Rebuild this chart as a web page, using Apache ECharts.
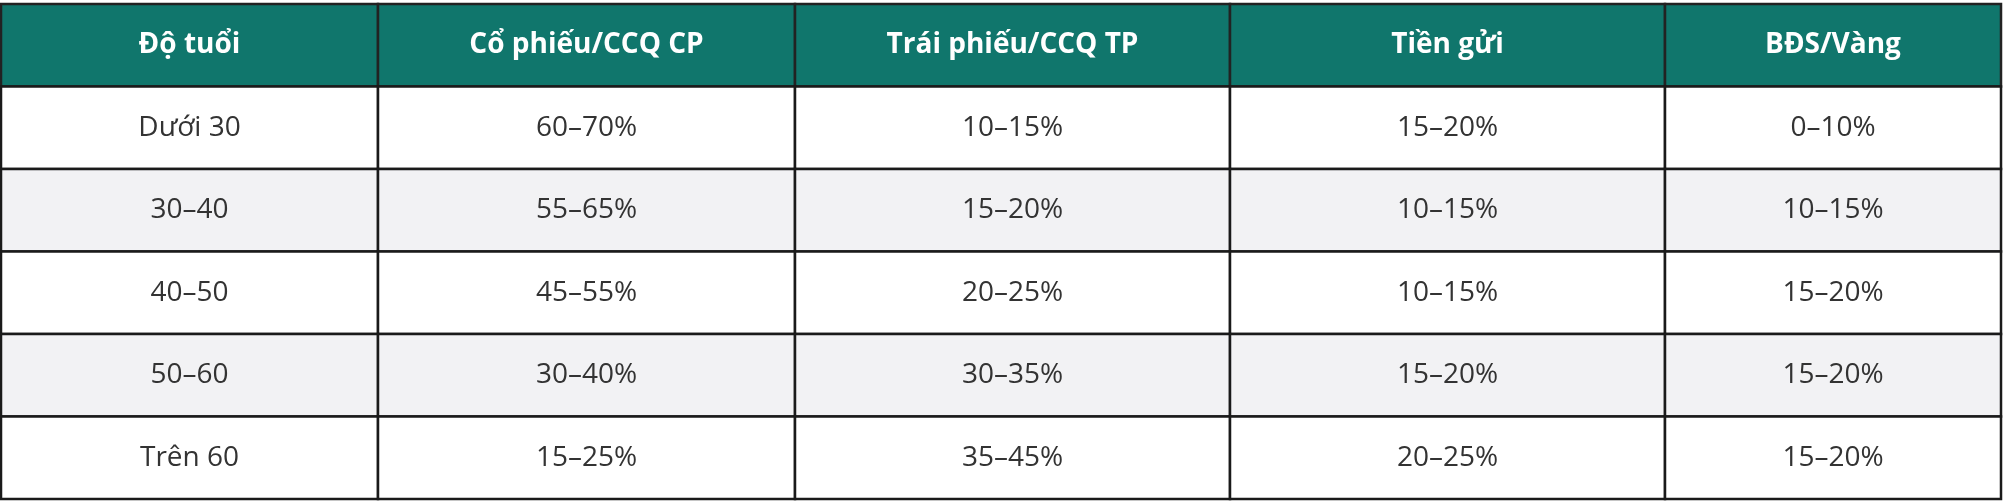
<!DOCTYPE html>
<html><head><meta charset="utf-8">
<script src="https://cdn.jsdelivr.net/npm/echarts@6/dist/echarts.min.js"></script>
<style>html,body{margin:0;padding:0;background:#fff}#c{width:2003px;height:502px}</style>
</head><body><div id="c"></div>
<script>
const headers = ['Độ tuổi','Cổ phiếu/CCQ CP','Trái phiếu/CCQ TP','Tiền gửi','BĐS/Vàng'];
const ageGroups = ['Dưới 30','30–40','40–50','50–60','Trên 60'];
const stocks = ['60–70%','55–65%','45–55%','30–40%','15–25%'];
const bonds = ['10–15%','15–20%','20–25%','30–35%','35–45%'];
const deposits = ['15–20%','10–15%','10–15%','15–20%','20–25%'];
const realEstate = ['0–10%','10–15%','15–20%','15–20%','15–20%'];

const colEdges = [0, 377, 794, 1229, 1664, 2000];
const rowNames = ['h','r0','r1','r2','r3','r4'];
const columns = [ageGroups, stocks, bonds, deposits, realEstate];

const data = [];
headers.forEach((h, c) => data.push([c, 0, h]));
ageGroups.forEach((_, r) => columns.forEach((col, c) => data.push([c, r + 1, col[r]])));

const chart = echarts.init(document.getElementById('c'));
chart.setOption({
  animation: false,
  grid: {left: 1, right: 2, top: 4, bottom: 3},
  xAxis: {type: 'value', min: 0, max: 2000, show: false},
  yAxis: {type: 'category', data: rowNames, inverse: true, show: false},
  series: [{
    type: 'custom',
    data: data,
    renderItem: function (params, api) {
      const c = api.value(0), r = api.value(1);
      const x0 = api.coord([colEdges[c], r])[0];
      const x1 = api.coord([colEdges[c + 1], r])[0];
      const bw = api.size([0, 1])[1];
      const yc = api.coord([0, r])[1];
      const y0 = yc - bw / 2;
      const isHead = r === 0;
      const fill = isHead ? '#10766c' : (r % 2 === 0 ? '#f2f2f4' : '#ffffff');
      return {
        type: 'group',
        children: [
          {type: 'rect', shape: {x: x0, y: y0, width: x1 - x0, height: bw},
           style: {fill: fill, stroke: isHead ? '#222' : '#1a1a1a', lineWidth: 2.5}},
          {type: 'text', style: {x: (x0 + x1) / 2, y: yc, text: api.value(2),
            align: 'center', verticalAlign: 'middle',
            font: (isHead ? 'bold ' : '') + '28px "Open Sans", sans-serif',
            fill: isHead ? '#ffffff' : '#333333'}}
        ]
      };
    }
  }]
});
</script></body></html>
